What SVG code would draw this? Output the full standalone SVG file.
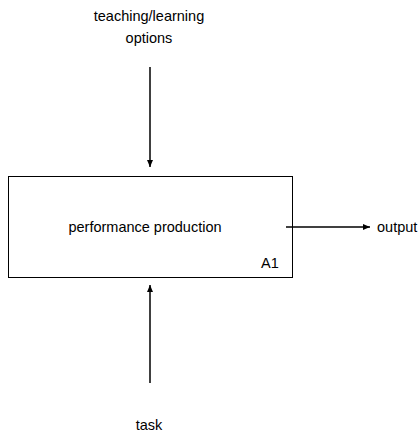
<svg xmlns="http://www.w3.org/2000/svg" width="420" height="438" viewBox="0 0 420 438">
  <style>
    text { font-family: "Liberation Sans", Arial, sans-serif; font-size: 14.5px; fill: #000; }
    .mid { text-anchor: middle; }
    .edge { stroke: #000; stroke-width: 1.5; fill: none; }
    .box { stroke: #000; stroke-width: 1; fill: #fff; }
  </style>
  <defs>
    <marker id="head" viewBox="0 0 7 6" refX="7" refY="3" markerWidth="7" markerHeight="6" markerUnits="userSpaceOnUse" orient="auto">
      <path d="M0,0 L7,3 L0,6 Z" fill="#000"/>
    </marker>
  </defs>

  <!-- activity box -->
  <g id="node-a1">
    <rect class="box" x="8.5" y="176.5" width="284" height="101"/>
    <text class="mid" x="145" y="232">performance production</text>
    <text x="261" y="268">A1</text>
  </g>

  <!-- boundary labels -->
  <g id="node-control">
    <text class="mid" x="149" y="21">teaching/learning</text>
    <text class="mid" x="149" y="43">options</text>
  </g>
  <g id="node-output">
    <text x="377" y="232">output</text>
  </g>
  <g id="node-input">
    <text class="mid" x="149" y="430">task</text>
  </g>

  <!-- arrows -->
  <g id="connectors">
    <line class="edge" x1="150" y1="67" x2="150" y2="167" marker-end="url(#head)"/>
    <line class="edge" x1="150" y1="383" x2="150" y2="285" marker-end="url(#head)"/>
    <line class="edge" x1="286" y1="227" x2="370" y2="227" marker-end="url(#head)"/>
  </g>
</svg>
